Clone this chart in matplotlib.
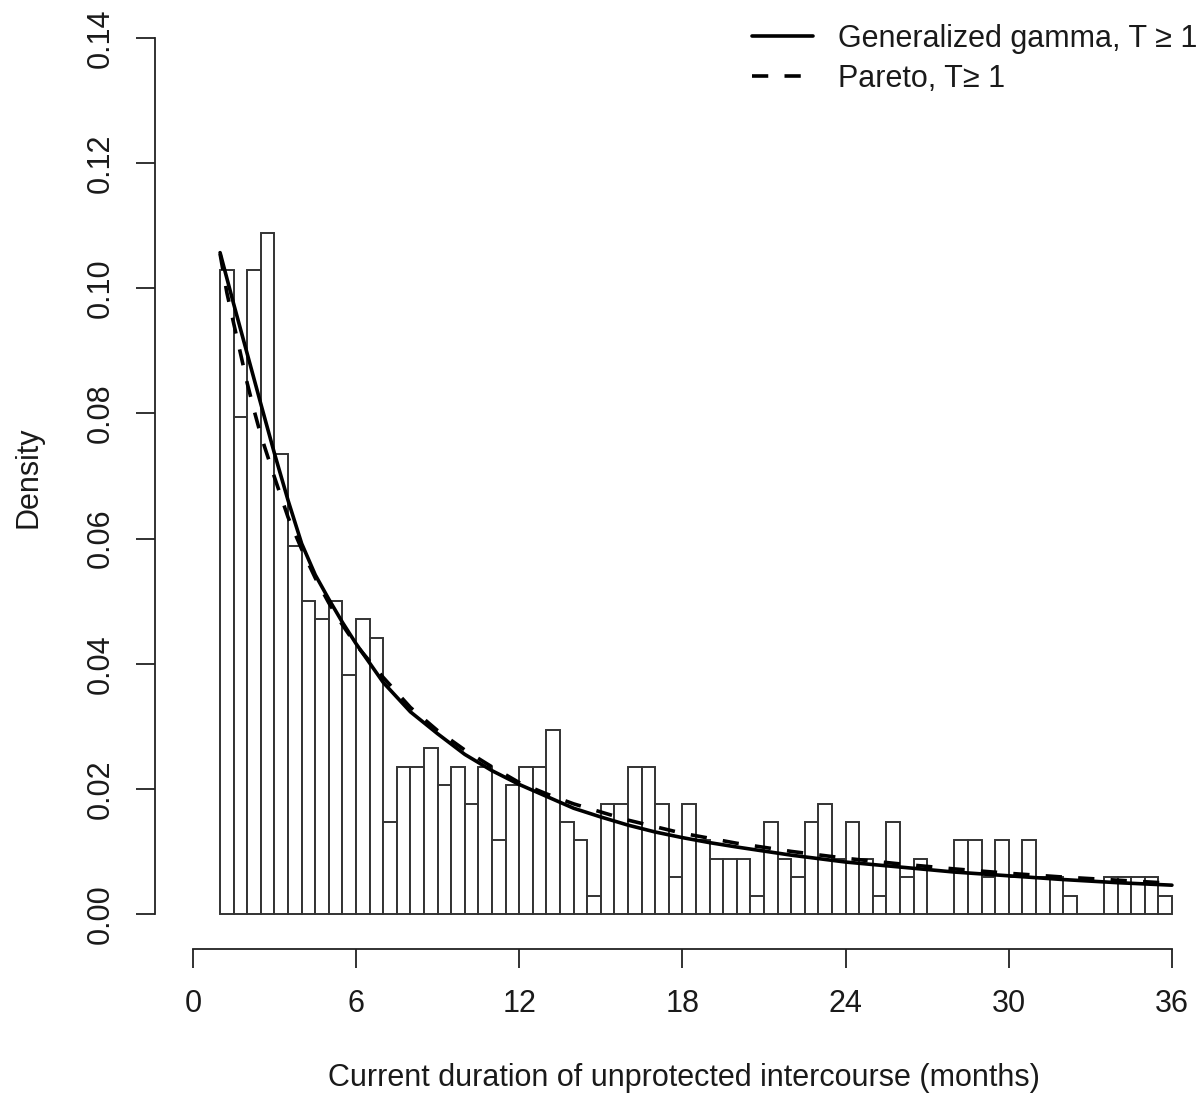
import numpy as np
import matplotlib
matplotlib.use("Agg")
import matplotlib.pyplot as plt

plt.rcParams['font.family'] = ['Liberation Sans', 'DejaVu Sans']

# histogram: bins of half a month from 1 to 36, density per bin
bin_left = np.arange(1, 36, 0.5)
density = [
    0.1029, 0.0794, 0.1029, 0.1088, 0.0735, 0.0588, 0.0500, 0.0471, 0.0500, 0.0382,
    0.0471, 0.0441, 0.0147, 0.0235, 0.0235, 0.0265, 0.0206, 0.0235, 0.0176, 0.0235,
    0.0118, 0.0206, 0.0235, 0.0235, 0.0294, 0.0147, 0.0118, 0.0029, 0.0176, 0.0176,
    0.0235, 0.0235, 0.0176, 0.0059, 0.0176, 0.0118, 0.0088, 0.0088, 0.0088, 0.0029,
    0.0147, 0.0088, 0.0059, 0.0147, 0.0176, 0.0088, 0.0147, 0.0088, 0.0029, 0.0147,
    0.0059, 0.0088, 0.0000, 0.0000, 0.0118, 0.0118, 0.0059, 0.0118, 0.0059, 0.0118,
    0.0059, 0.0059, 0.0029, 0.0000, 0.0000, 0.0059, 0.0059, 0.0059, 0.0059, 0.0029,
]

# fitted curves
gg_x = [1, 1.5, 2, 2.5, 3, 3.5, 4, 4.5, 5, 5.5, 6, 7, 8, 9, 10, 11, 12, 14, 15, 16,
        17, 18, 19, 20, 22, 24, 26, 28, 30, 32, 34, 36]
gg_y = [0.1057, 0.0975, 0.0895, 0.0815, 0.0736, 0.0661, 0.0592, 0.0542, 0.0503, 0.0466,
        0.0432, 0.0370, 0.0323, 0.0288, 0.0255, 0.0229, 0.0207, 0.0169, 0.0155, 0.0142,
        0.0131, 0.0122, 0.0114, 0.0107, 0.0094, 0.0083, 0.0075, 0.0067, 0.0061, 0.0055,
        0.0050, 0.0046]

par_x = [1, 1.25, 1.5, 1.75, 2, 2.25, 2.5, 3, 3.5, 4, 4.5, 5, 5.5, 6, 7, 8, 9, 10,
         11, 12, 13, 14, 16, 18, 20, 22, 24, 26, 28, 30, 32, 34, 36]
par_y = [0.1055, 0.0993, 0.0944, 0.0896, 0.0848, 0.0805, 0.0765, 0.0698, 0.0634, 0.0583,
         0.0537, 0.0497, 0.0462, 0.0430, 0.0378, 0.0330, 0.0293, 0.0262, 0.0235, 0.0210,
         0.0192, 0.0176, 0.0150, 0.0129, 0.0113, 0.0100, 0.0089, 0.0080, 0.0072, 0.0065,
         0.0059, 0.0054, 0.0049]

x_ticks = [0, 6, 12, 18, 24, 30, 36]
y_ticks = [0.00, 0.02, 0.04, 0.06, 0.08, 0.10, 0.12, 0.14]

W, H = 1200, 1097
fs = 22
fig = plt.figure(figsize=(W / 100, H / 100), dpi=100)
ax = fig.add_axes([182 / W, (H - 949) / H, (1210 - 182) / W, (949 - 3) / H])

ax.bar(bin_left, density, width=0.5, align='edge', facecolor='white',
       edgecolor='#333333', linewidth=1.4)
ax.plot(gg_x, gg_y, color='black', lw=2.6, solid_capstyle='round',
        label='Generalized gamma, T ≥ 1')
ax.plot(par_x, par_y, color='black', lw=2.6, dashes=(4.5, 4.5), dash_capstyle='butt',
        label='Pareto, T≥ 1')

ax.set_xlim(-0.4, 37.4)
ax.set_ylim(-0.0056, 0.1456)

for s in ['top', 'right']:
    ax.spines[s].set_visible(False)
ax.spines['left'].set_position(('outward', 19.5))
ax.spines['left'].set_bounds(0, 0.14)
ax.spines['bottom'].set_bounds(0, 36)
for s in ['left', 'bottom']:
    ax.spines[s].set_linewidth(1.3)
    ax.spines[s].set_color('#222222')

ax.set_xticks(x_ticks)
ax.set_yticks(y_ticks)
ax.set_yticklabels([f"{v:.2f}" for v in y_ticks], rotation=90, va='center')
ax.tick_params(axis='both', length=13.5, width=1.3, color='#222222',
               labelsize=fs, labelcolor='#1a1a1a')
ax.tick_params(axis='x', pad=15)
ax.tick_params(axis='y', pad=15)

fig.text(28 / W, 1 - 477 / H, 'Density', rotation=90, ha='center', va='center',
         fontsize=fs, color='#1a1a1a')
fig.text(684 / W, 1 - 1078 / H, 'Current duration of unprotected intercourse (months)',
         ha='center', va='center', fontsize=fs, color='#1a1a1a')

ax.legend(loc='upper left', bbox_to_anchor=(752 / W, 1 - 24 / H),
          bbox_transform=fig.transFigure, frameon=False, fontsize=fs,
          handlelength=2.0, handletextpad=0.8, labelspacing=0.32,
          borderpad=0, borderaxespad=0, labelcolor='#1a1a1a')

fig.savefig('out.png', dpi=100)
